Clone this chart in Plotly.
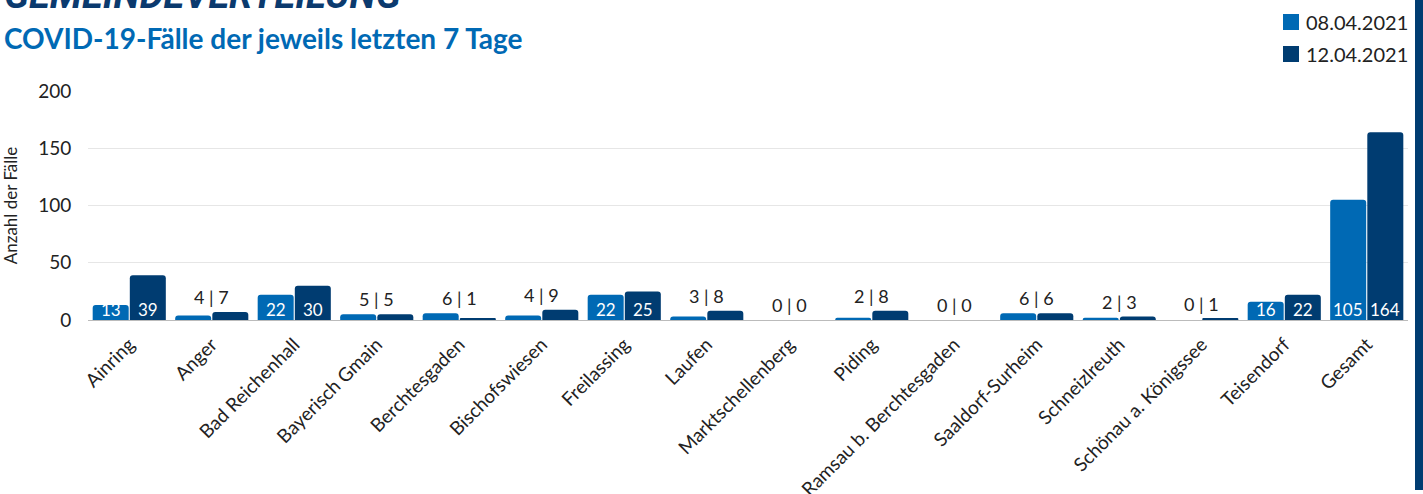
import plotly.graph_objects as go

categories = ["Ainring", "Anger", "Bad Reichenhall", "Bayerisch Gmain", "Berchtesgaden",
              "Bischofswiesen", "Freilassing", "Laufen", "Marktschellenberg", "Piding",
              "Ramsau b. Berchtesgaden", "Saaldorf-Surheim", "Schneizlreuth",
              "Schönau a. Königssee", "Teisendorf", "Gesamt"]
values_0804 = [13, 4, 22, 5, 6, 4, 22, 3, 0, 2, 0, 6, 2, 0, 16, 105]
values_1204 = [39, 7, 30, 5, 1, 9, 25, 8, 0, 8, 0, 6, 3, 1, 22, 164]
series_names = ["08.04.2021", "12.04.2021"]
y_ticks = [0, 50, 100, 150, 200]

LIGHT = "#0069b4"
DARK = "#003c71"
FONT = "Lato"
PLOT_H = 229.0

def py(pixel_y):
    # paper y for a pixel row measured from the top of the image
    return 1 + (91 - pixel_y) / PLOT_H

fig = go.Figure()
fig.add_trace(go.Bar(x=categories, y=values_0804, name=series_names[0], showlegend=False,
                     marker=dict(color=LIGHT, cornerradius=3, line=dict(width=0))))
fig.add_trace(go.Bar(x=categories, y=values_1204, name=series_names[1], showlegend=False,
                     marker=dict(color=DARK, cornerradius=3, line=dict(width=0))))

annotations = []
shift = 18.6
for c, a, b in zip(categories, values_0804, values_1204):
    if min(a, b) >= 10:
        for v, s in ((a, -shift), (b, shift)):
            annotations.append(dict(x=c, y=0, xref="x", yref="y", text=str(v),
                                    showarrow=False, yanchor="bottom", xshift=s, yshift=-2,
                                    font=dict(family=FONT, size=17, color="white")))
    else:
        annotations.append(dict(x=c, y=max(a, b), xref="x", yref="y", text=f"{a} | {b}",
                                showarrow=False, yanchor="bottom", yshift=2,
                                font=dict(family=FONT, size=18, color="#222222")))

annotations.append(dict(x=0, y=py(-5), xref="paper", yref="paper", xanchor="left",
                        xshift=-86, yanchor="middle", showarrow=False,
                        text="<b><i>GEMEINDEVERTEILUNG</i></b>",
                        font=dict(family="Roboto", size=38, color="#0b3a6e", weight=900)))
annotations.append(dict(x=0, y=py(38), xref="paper", yref="paper", xanchor="left",
                        xshift=-86, yanchor="middle", showarrow=False,
                        text="<b>COVID-19-Fälle der jeweils letzten 7 Tage</b>",
                        font=dict(family=FONT, size=28, color=LIGHT)))

# legend (drawn manually to get large square swatches)
shapes = []
for i, (name, col) in enumerate(zip(series_names, [LIGHT, DARK])):
    yc = 22 + 32 * i
    shapes.append(dict(type="rect", xref="paper", yref="paper",
                       x0=(1283 - 88) / 1320, x1=(1299 - 88) / 1320,
                       y0=py(yc + 8), y1=py(yc - 8), fillcolor=col, line=dict(width=0)))
    annotations.append(dict(x=(1304 - 88) / 1320, y=py(yc), xref="paper", yref="paper",
                            xanchor="left", yanchor="middle", showarrow=False, text=name,
                            font=dict(family=FONT, size=20, color="#222222")))

# dark card border at the right edge
shapes.append(dict(type="rect", xref="paper", yref="paper", xsizemode="pixel",
                   xanchor=1.0, x0=7, x1=16, y0=py(490), y1=py(-5), fillcolor=DARK,
                   line=dict(width=0), layer="above"))

fig.update_layout(
    width=1423, height=494,
    margin=dict(l=88, r=15, t=91, b=174, autoexpand=False),
    paper_bgcolor="white", plot_bgcolor="white",
    barmode="group", bargap=0.1, bargroupgap=0.03,
    annotations=annotations, shapes=shapes,
    showlegend=False,
    xaxis=dict(tickangle=-45, tickfont=dict(family=FONT, size=19, color="#222222"),
               ticklabelstandoff=5,
               showline=True, linecolor="#bbbbbb", linewidth=1, ticks="", automargin=False),
    yaxis=dict(range=[0, 200], tickvals=y_ticks, showgrid=True, gridcolor="#e6e6e6",
               zeroline=False, tickfont=dict(family=FONT, size=19, color="#222222"),
               ticks="outside", ticklen=12, tickcolor="rgba(0,0,0,0)", automargin=False,
               title=dict(text="Anzahl der Fälle", font=dict(family=FONT, size=17, color="#222222"),
                          standoff=22)),
)

fig.write_html("out.html", config={"displayModeBar": False},
               post_script="document.body.style.margin='0';document.body.style.overflow='hidden';")
